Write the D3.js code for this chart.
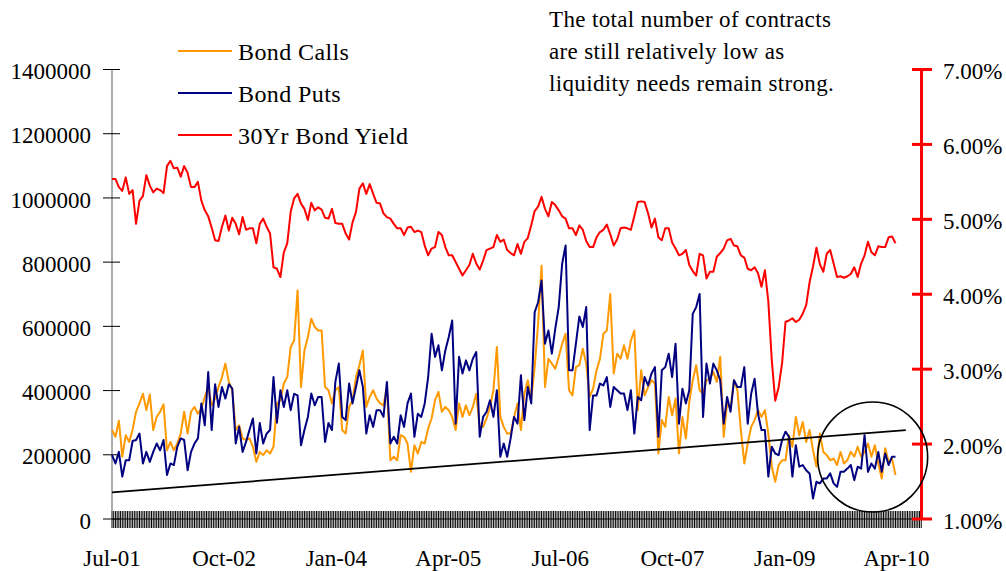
<!DOCTYPE html>
<html>
<head>
<meta charset="utf-8">
<script src="https://cdn.jsdelivr.net/npm/d3@7"></script>
<style>
  body { margin: 0; background: #fff; }
  svg { display: block; font-family: "Liberation Serif", "Times New Roman", serif; }
</style>
</head>
<body>
<svg id="chart" width="1006" height="571"></svg>
<script>
// observations every 2 weeks starting here
const startDate = "2001-07-06";
const endDate = "2010-07-17";

// open interest, thousands of contracts
const calls = [
  277,256,306,194,261,240,279,334,360,390,339,388,277,318,334,357,214,240,214,235,
  266,334,266,334,349,328,344,380,411,354,375,411,442,484,427,401,277,292,251,246,
  251,225,178,209,199,214,204,225,360,370,422,442,536,556,712,411,525,567,
  624,598,587,587,411,401,360,401,411,277,266,349,370,442,479,525,349,380,401,375,
  360,354,411,183,194,183,261,256,235,147,230,204,240,235,282,313,370,396,334,349,
  339,318,277,360,318,354,323,349,390,287,287,313,349,401,536,318,
  287,266,266,318,360,277,390,432,375,473,608,789,411,499,484,468,505,546,577,401,
  385,473,479,530,484,380,406,463,499,577,587,701,453,515,499,541,499,556,587,339,
  463,385,411,432,422,204,308,287,380,323,375,204,318,251,365,432,479,
  401,390,432,437,458,427,505,256,360,344,432,401,277,173,235,287,308,339,318,339,
  266,163,116,168,183,183,261,225,318,261,302,240,277,214,163,266,209,199,183,188,
  168,209,173,183,209,194,225,194,209,235,194,230,173,126,220,178,188,137
];
const puts = [
  199,173,209,132,183,183,243,246,266,173,209,178,209,235,214,246,137,173,168,225,
  251,246,152,209,235,251,360,292,458,277,420,349,411,375,420,406,235,287,209,240,
  277,313,204,299,235,266,277,442,300,401,349,401,339,390,385,230,277,318,
  391,354,380,380,240,299,277,427,484,318,308,422,360,411,463,411,266,323,287,339,
  339,318,427,235,256,235,323,287,360,391,256,328,318,360,442,577,505,541,463,525,
  567,618,297,505,453,494,463,499,520,256,318,334,370,318,401,194,
  235,194,251,318,297,448,308,411,360,644,675,743,546,587,515,593,660,795,852,463,
  463,546,631,598,660,277,385,385,422,416,442,349,411,401,391,391,339,401,266,380,
  370,442,416,453,473,256,463,473,515,442,546,297,406,360,401,639,660,
  701,318,484,422,484,463,432,297,380,334,432,411,411,473,297,390,437,328,277,277,
  132,225,204,199,246,272,256,132,230,163,168,152,142,64,116,111,126,126,142,111,
  100,147,147,157,168,121,163,157,261,147,173,157,209,147,204,168,194,194
];
// 30 year bond yield, percent
const yields = [
  5.54,5.54,5.43,5.38,5.56,5.34,5.39,4.94,5.25,5.31,5.59,5.45,5.36,5.41,5.39,5.35,5.71,5.78,5.68,5.69,
  5.57,5.71,5.62,5.43,5.43,5.50,5.25,5.12,5.04,4.89,4.72,4.71,4.90,5.05,4.85,5.02,4.94,4.80,5.03,4.86,
  4.88,4.88,4.68,4.94,5.01,4.90,4.81,4.36,4.34,4.23,4.56,4.68,5.10,5.28,5.34,5.21,5.14,4.99,5.22,5.12,
  5.16,5.13,5.02,5.01,5.14,4.95,4.94,4.94,4.81,4.73,4.96,5.10,5.41,5.48,5.34,5.47,5.34,5.22,5.21,5.08,
  5.03,5.01,4.94,4.88,4.88,4.79,4.89,4.90,4.83,4.85,4.83,4.65,4.52,4.61,4.63,4.83,4.79,4.63,4.52,
  4.52,4.43,4.34,4.25,4.32,4.39,4.54,4.41,4.33,4.45,4.59,4.61,4.63,4.79,4.70,4.73,4.59,4.55,4.52,4.67,
  4.54,4.70,4.75,4.92,5.11,5.17,5.30,5.14,5.04,5.23,5.19,5.12,5.04,5.01,4.88,4.88,4.79,4.92,4.86,4.71,
  4.63,4.63,4.76,4.83,4.86,4.93,4.80,4.65,4.73,4.88,4.89,4.88,4.86,5.04,5.23,5.24,5.23,5.08,4.89,5.01,
  4.76,4.72,4.88,4.88,4.69,4.61,4.52,4.54,4.59,4.39,4.31,4.25,4.54,4.52,4.21,4.30,4.30,4.50,4.55,4.61,
  4.72,4.74,4.65,4.64,4.52,4.49,4.34,4.32,4.36,4.28,4.10,4.32,
  3.90,3.12,2.58,2.76,3.08,3.63,3.65,3.68,3.63,3.66,3.74,3.85,4.16,4.37,4.62,4.40,4.30,4.54,4.59,4.41,
  4.23,4.24,4.22,4.24,4.27,4.36,4.23,4.41,4.52,4.70,4.56,4.52,4.64,4.63,4.63,4.76,4.77,4.68
];

const xTickLabels = ["Jul-01", "Oct-02", "Jan-04", "Apr-05", "Jul-06", "Oct-07", "Jan-09", "Apr-10"];
const leftTicks = [0, 200000, 400000, 600000, 800000, 1000000, 1200000, 1400000];
const rightTicks = [1, 2, 3, 4, 5, 6, 7];
const seriesNames = ["Bond Calls", "Bond Puts", "30Yr Bond Yield"];
const seriesColors = ["#FF9900", "#000080", "#FF0000"];
const trendDates = ["2001-07-06", "2010-05-14"];
const trendValues = [83000, 277000];
const circleAt = ["2009-12-30", 193000];
const note = ["The total number of contracts", "are still relatively low as", "liquidity needs remain strong."];

const parse = d3.timeParse("%Y-%m-%d");
const t0 = parse(startDate);
const t1 = parse(endDate);
const dates = calls.map((d, i) => d3.timeDay.offset(t0, 14 * i));

const svg = d3.select("#chart");
const x = d3.scaleTime().domain([t0, t1]).range([112, 921.5]);
const yL = d3.scaleLinear().domain([0, 1400000]).range([519, 69.5]);
const yR = d3.scaleLinear().domain([1, 7]).range([519, 69.5]);

// weekly category ticks along the bottom
const nWeeks = Math.floor(d3.timeDay.count(t0, t1) / 7) + 1;
const weekTicks = d3.range(nWeeks).map(k => d3.timeDay.offset(t0, 7 * k));
svg.append("g").selectAll("line").data(weekTicks).join("line")
  .attr("x1", d => x(d)).attr("x2", d => x(d))
  .attr("y1", 511).attr("y2", 528)
  .attr("stroke", "#000").attr("stroke-width", 1);

svg.append("line").attr("x1", 112).attr("x2", 921.5).attr("y1", 519).attr("y2", 519)
  .attr("stroke", "#000").attr("stroke-width", 1.2);

// left axis
svg.append("line").attr("x1", 112).attr("x2", 112).attr("y1", yL(1400000)).attr("y2", yL(0))
  .attr("stroke", "#808080").attr("stroke-width", 1.3);
const gl = svg.append("g");
gl.selectAll("line").data(leftTicks).join("line")
  .attr("x1", 103).attr("x2", 120)
  .attr("y1", d => yL(d)).attr("y2", d => yL(d))
  .attr("stroke", "#000").attr("stroke-width", 1);
gl.selectAll("text").data(leftTicks).join("text")
  .attr("x", 91).attr("y", d => yL(d)).attr("dy", "0.42em")
  .attr("text-anchor", "end").attr("font-size", 23).attr("fill", "#000")
  .text(d => d);

// right axis
svg.append("line").attr("x1", 921.5).attr("x2", 921.5).attr("y1", yR(7)).attr("y2", yR(1))
  .attr("stroke", "#FF0000").attr("stroke-width", 3);
const gr = svg.append("g");
gr.selectAll("line").data(rightTicks).join("line")
  .attr("x1", 912).attr("x2", 932)
  .attr("y1", d => yR(d)).attr("y2", d => yR(d))
  .attr("stroke", "#FF0000").attr("stroke-width", 3);
gr.selectAll("text").data(rightTicks).join("text")
  .attr("x", 943).attr("y", d => yR(d)).attr("dy", "0.42em")
  .attr("font-size", 23).attr("fill", "#000")
  .text(d => d.toFixed(2) + "%");

// x labels every 15 months
svg.append("g").selectAll("text").data(xTickLabels).join("text")
  .attr("x", (d, k) => x(d3.timeMonth.offset(t0, 15 * k)))
  .attr("y", 566).attr("text-anchor", "middle")
  .attr("font-size", 23).attr("fill", "#000")
  .text(d => d);

// series
const lineL = d3.line().x((d, i) => x(dates[i])).y(d => yL(d * 1000));
const lineR = d3.line().x((d, i) => x(dates[i])).y(d => yR(d));

svg.append("path").datum(calls).attr("d", lineL)
  .attr("fill", "none").attr("stroke", seriesColors[0]).attr("stroke-width", 2).attr("stroke-linejoin", "round");
svg.append("path").datum(puts).attr("d", lineL)
  .attr("fill", "none").attr("stroke", seriesColors[1]).attr("stroke-width", 2).attr("stroke-linejoin", "round");
svg.append("path").datum(yields).attr("d", lineR)
  .attr("fill", "none").attr("stroke", seriesColors[2]).attr("stroke-width", 2).attr("stroke-linejoin", "round");

// trend line and highlight circle
svg.append("line")
  .attr("x1", x(parse(trendDates[0]))).attr("y1", yL(trendValues[0]))
  .attr("x2", x(parse(trendDates[1]))).attr("y2", yL(trendValues[1]))
  .attr("stroke", "#000").attr("stroke-width", 1.7);
svg.append("circle")
  .attr("cx", x(parse(circleAt[0]))).attr("cy", yL(circleAt[1])).attr("r", 55)
  .attr("fill", "none").attr("stroke", "#000").attr("stroke-width", 1.6);

// legend
const lg = svg.append("g");
seriesNames.forEach((name, k) => {
  const ly = 51 + 42 * k;
  lg.append("line").attr("x1", 178).attr("x2", 232).attr("y1", ly).attr("y2", ly)
    .attr("stroke", seriesColors[k]).attr("stroke-width", 2);
  lg.append("text").attr("x", 238).attr("y", ly + 8.5)
    .attr("font-size", 24).attr("letter-spacing", 0.4).attr("fill", "#000").text(name);
});

// note
svg.append("g").selectAll("text").data(note).join("text")
  .attr("x", 549).attr("y", (d, k) => 27 + 32 * k)
  .attr("font-size", 23).attr("letter-spacing", 0.35).attr("fill", "#000")
  .text(d => d);
</script>
</body>
</html>
